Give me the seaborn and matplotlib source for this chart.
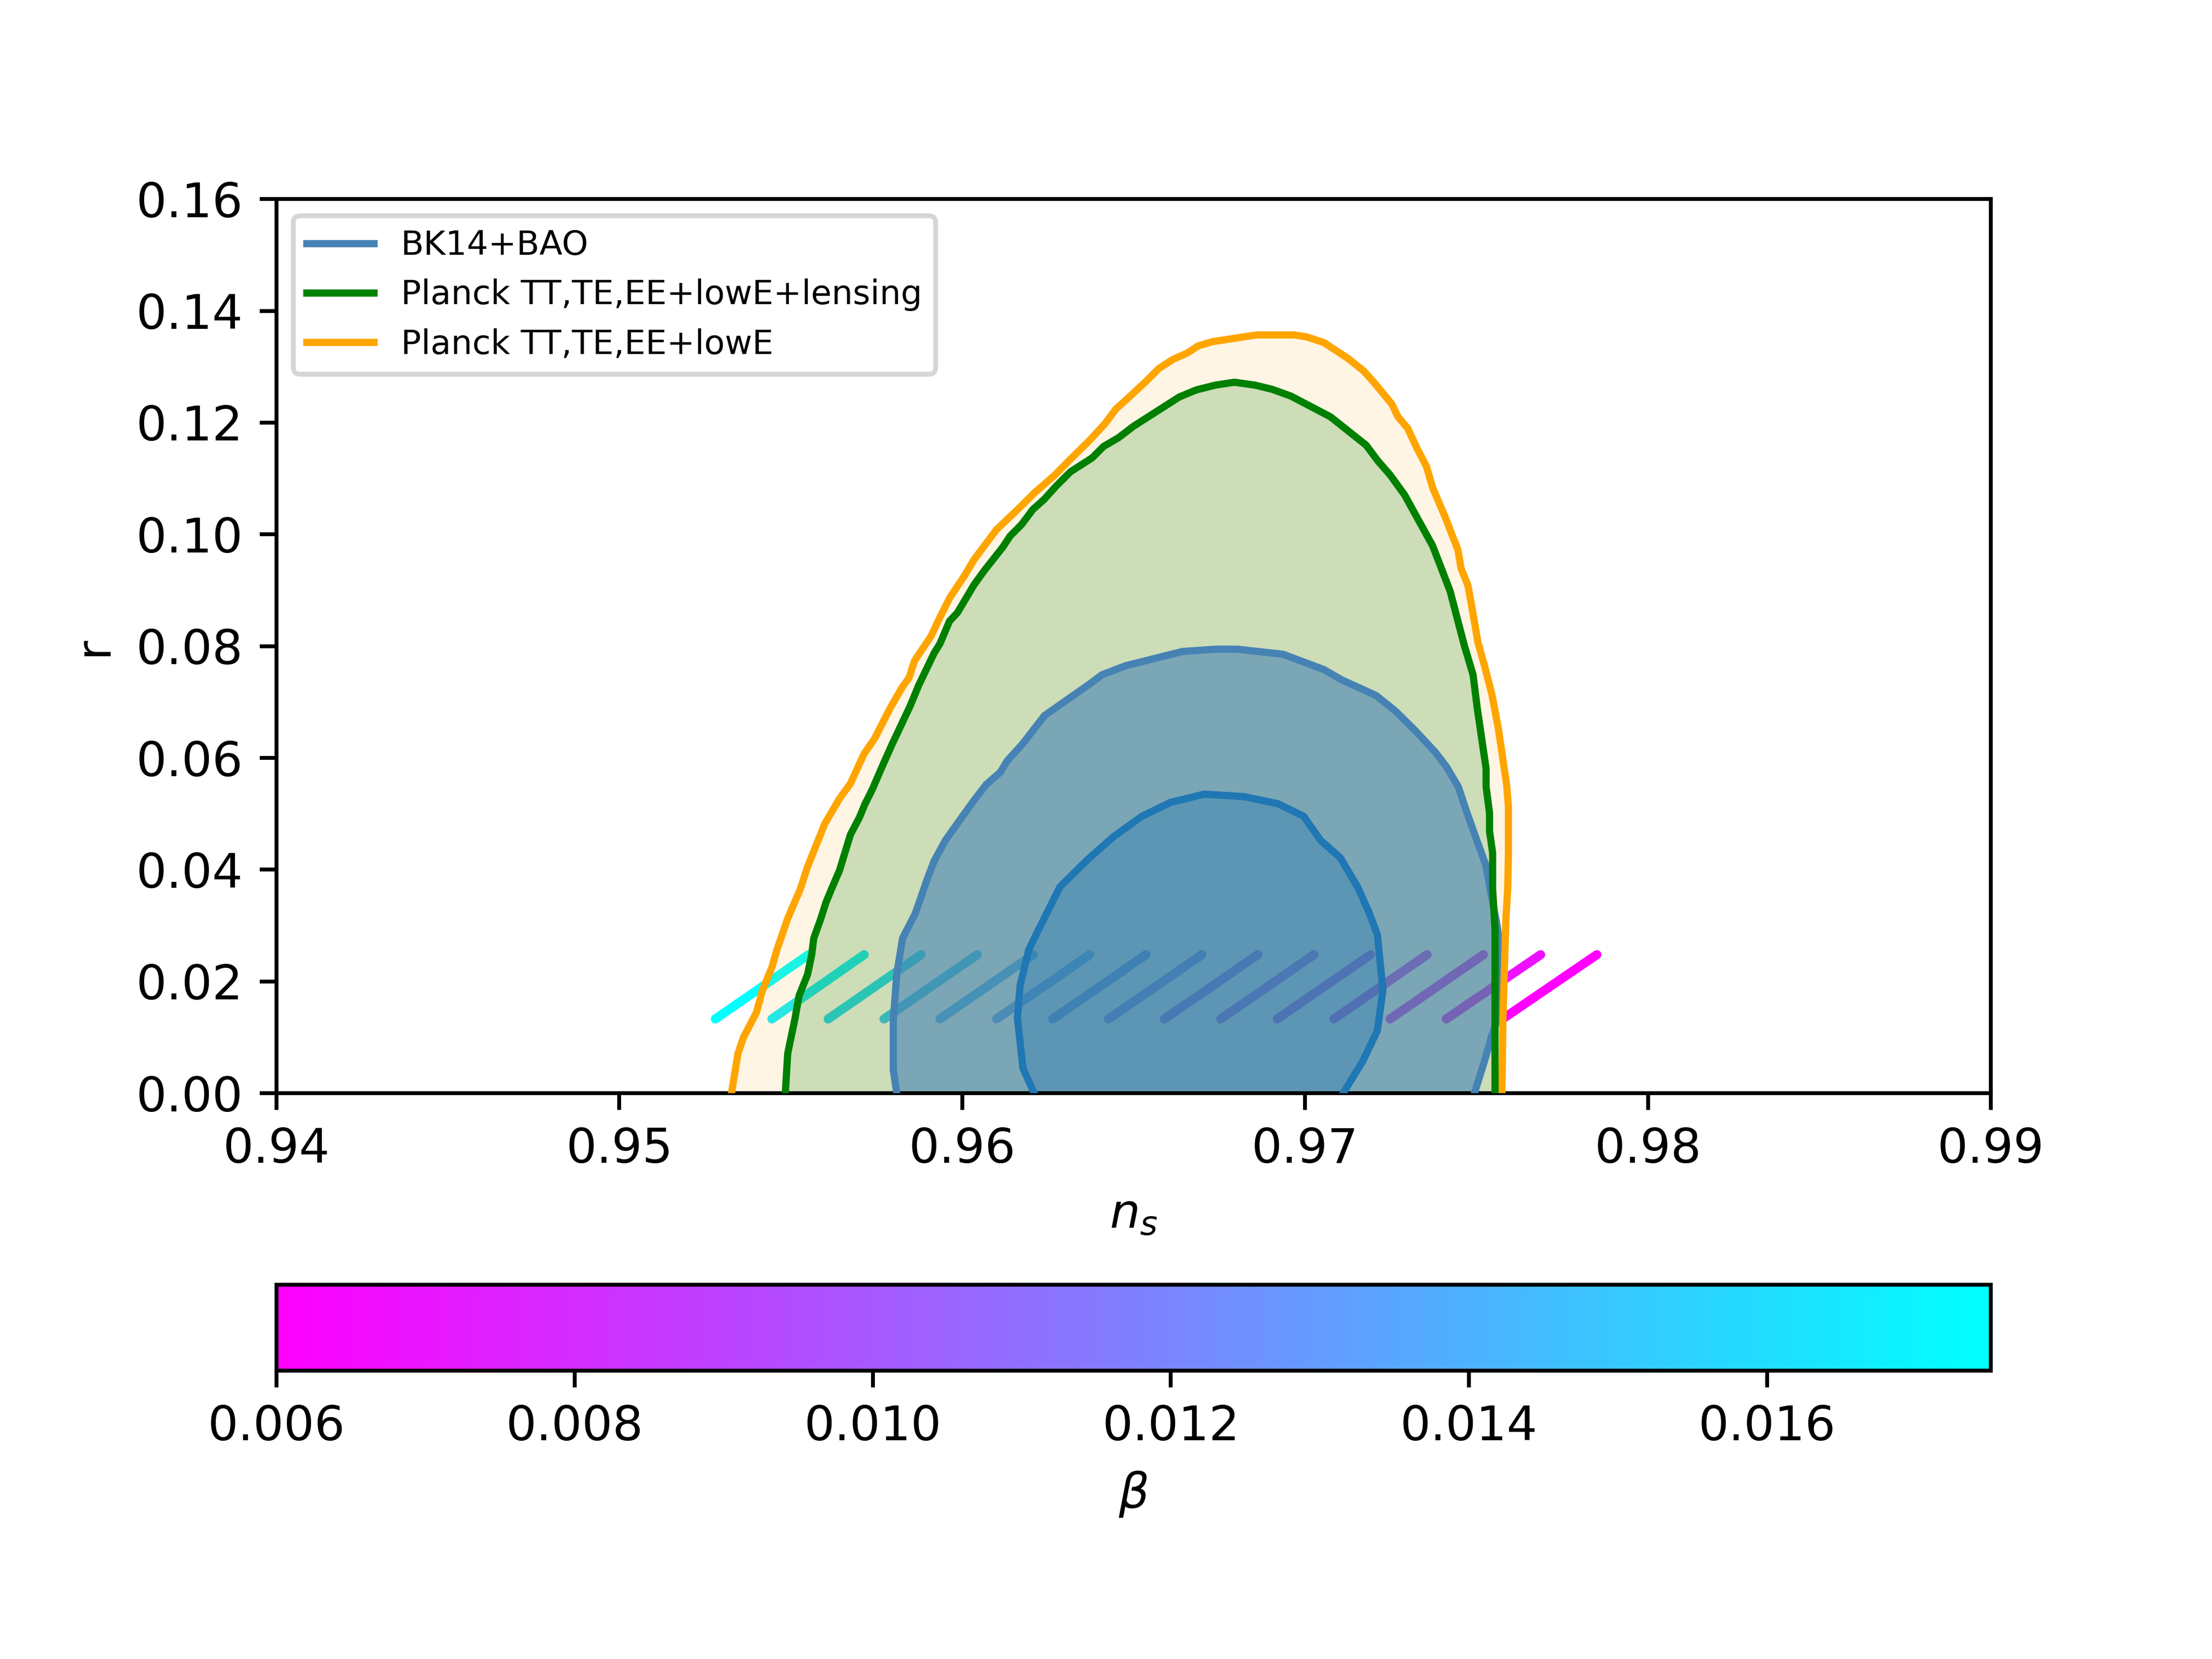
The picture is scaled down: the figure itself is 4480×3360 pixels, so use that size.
import pandas as pd
import matplotlib
matplotlib.use("Agg")
import matplotlib.pyplot as plt
import matplotlib.cm as cm
from matplotlib.colors import Normalize
import seaborn as sns

# contours, clockwise from r = 0 on the left
orange_ns = [.95327, .95346, .95362, .95400, .95417, .95446, .95458, .95491, .95528, .95549, .95599, .95642,
             .95674, .95713, .95745, .95790, .95825, .95845, .95861, .95909, .95935, .95964, .96008, .96034,
             .96100, .96158, .96210, .96269, .96316, .96372, .96416, .96449, .96478, .96536, .96573, .96615,
             .96656, .96688, .96729, .96794, .96858, .96968, .97005, .97055, .97124, .97170, .97202, .97253,
             .97271, .97299, .97326, .97354, .97372, .97409, .97446, .97455, .97475, .97487, .97504, .97524,
             .97545, .97564, .97576, .97588, .97593, .97593, .97591, .97586, .97584, .97577, .97574]
orange_r = [.00000, .00713, .01000, .01449, .01832, .02274, .02539, .03128, .03658, .04054, .04821, .05271,
            .05542, .06066, .06353, .06894, .07266, .07435, .07739, .08179, .08517, .08869, .09275, .09545,
            .10086, .10424, .10740, .11055, .11348, .11686, .11979, .12249, .12407, .12738, .12966, .13133,
            .13245, .13372, .13448, .13509, .13569, .13569, .13534, .13432, .13154, .12930, .12712, .12332,
            .12104, .11901, .11546, .11216, .10836, .10304, .09720, .09391, .09087, .08681, .08075, .07633,
            .07133, .06514, .06014, .05513, .05130, .04247, .03658, .03153, .02770, .01300, .00000]

green_ns = [.95484, .95491, .95512, .95524, .95549, .95561, .95567, .95586, .95603, .95619, .95642, .95674,
            .95700, .95716, .95738, .95764, .95796, .95822, .95848, .95873, .95918, .95935, .95963, .95986,
            .96034, .96063, .96118, .96140, .96173, .96206, .96239, .96272, .96316, .96379, .96412, .96456,
            .96500, .96633, .96683, .96739, .96794, .96853, .96904, .96959, .97074, .97178, .97212, .97248,
            .97290, .97372, .97423, .97464, .97490, .97502, .97516, .97528, .97528, .97538, .97538, .97547,
            .97547, .97554, .97554]
green_r = [.00000, .00713, .01331, .01744, .02127, .02480, .02774, .03098, .03422, .03658, .03986, .04629,
           .04933, .05170, .05440, .05812, .06252, .06590, .06928, .07300, .07875, .08044, .08449, .08599,
           .09094, .09342, .09770, .09973, .10176, .10446, .10627, .10852, .11122, .11370, .11573, .11731,
           .11937, .12459, .12586, .12672, .12723, .12672, .12596, .12474, .12104, .11597, .11318, .11064,
           .10709, .09797, .08985, .08022, .07486, .06897, .06308, .05807, .05483, .05012, .04688, .04305,
           .03658, .02924, .00000]

bao_outer_ns = [.95809, .95799, .95799, .95809, .95826, .95863, .95899, .95918, .95951, .96002, .96034, .96070,
                .96111, .96131, .96176, .96240, .96369, .96408, .96477, .96642, .96739, .96803, .96936, .96996,
                .97055, .97106, .97207, .97264, .97322, .97380, .97413, .97447, .97471, .97500, .97528, .97540,
                .97560, .97572, .97572, .97560, .97543, .97524, .97494]
bao_outer_r = [.00000, .00418, .01302, .02127, .02774, .03216, .03851, .04155, .04527, .04967, .05237, .05525,
               .05745, .05947, .06252, .06759, .07312, .07489, .07651, .07905, .07946, .07946, .07855, .07717,
               .07581, .07400, .07118, .06838, .06485, .06102, .05837, .05483, .05042, .04541, .04070, .03650,
               .03000, .02500, .01800, .01300, .01000, .00590, .00000]

bao_inner_ns = [.96210, .96177, .96161, .96169, .96194, .96219, .96285, .96367, .96442, .96524, .96607, .96706,
                .96822, .96921, .96996, .97045, .97103, .97153, .97186, .97211, .97227, .97211, .97169, .97111]
bao_inner_r = [.00000, .00449, .01350, .01936, .02567, .02883, .03694, .04190, .04595, .04956, .05204, .05353,
               .05308, .05181, .04956, .04528, .04212, .03694, .03243, .02838, .01846, .01125, .00584, .00000]

# model lines, one per beta
beta = [.0175, .0167, .0159, .0150, .0142, .0134, .0126, .0118, .0109, .0101, .0093, .0085, .0077, .0068, .0060]
line_ns_low = [.95280, .95445, .95609, .95772, .95935, .96100, .96264, .96427, .96590, .96754, .96919, .97084,
               .97248, .97412, .97576]
line_ns_high = [.95552, .95714, .95880, .96044, .96207, .96372, .96536, .96699, .96862, .97026, .97191, .97356,
                .97520, .97687, .97851]
line_r_low = 0.0133
line_r_high = 0.0248

x_ticks = [0.94, 0.95, 0.96, 0.97, 0.98, 0.99]
y_ticks = [0.00, 0.02, 0.04, 0.06, 0.08, 0.10, 0.12, 0.14, 0.16]
beta_ticks = [0.006, 0.008, 0.010, 0.012, 0.014, 0.016]
beta_range = (0.006, 0.0175)


def main():
    rows = []
    for b, lo, hi in zip(beta, line_ns_low, line_ns_high):
        rows.append({"ns": lo, "r": line_r_low, "beta": b})
        rows.append({"ns": hi, "r": line_r_high, "beta": b})
    df_lines = pd.DataFrame(rows)

    fig, ax = plt.subplots(figsize=(6.4, 4.8))

    sns.lineplot(data=df_lines, x="ns", y="r", hue="beta", palette="cool_r", hue_norm=beta_range,
                 estimator=None, sort=False, legend=False, lw=1.9, solid_capstyle="round", zorder=1, ax=ax)

    # filled regions, plain alpha layers on top of the model lines
    ax.fill(orange_ns, orange_r, color="orange", alpha=0.1, lw=0, zorder=2)
    ax.fill(green_ns, green_r, color="green", alpha=0.2, lw=0, zorder=2)
    ax.fill(bao_outer_ns, bao_outer_r, color="steelblue", alpha=0.6, lw=0, zorder=2)
    ax.fill(bao_inner_ns, bao_inner_r, color="tab:blue", alpha=0.33, lw=0, zorder=2)

    # outlines
    sns.lineplot(x=bao_outer_ns, y=bao_outer_r, color="steelblue", lw=1.5, sort=False, estimator=None,
                 label="BK14+BAO", zorder=3, ax=ax)
    sns.lineplot(x=bao_inner_ns, y=bao_inner_r, color="tab:blue", lw=1.5, sort=False, estimator=None,
                 zorder=3, ax=ax)
    sns.lineplot(x=green_ns, y=green_r, color="green", lw=1.5, sort=False, estimator=None,
                 label="Planck TT,TE,EE+lowE+lensing", zorder=3.2, ax=ax)
    sns.lineplot(x=orange_ns, y=orange_r, color="orange", lw=1.5, sort=False, estimator=None,
                 label="Planck TT,TE,EE+lowE", zorder=3.1, ax=ax)

    ax.set_xlim(0.94, 0.99)
    ax.set_ylim(0, 0.16)
    ax.set_xticks(x_ticks)
    ax.set_yticks(y_ticks)
    ax.set_xlabel(r"$n_s$")
    ax.set_ylabel("r")
    ax.legend(loc="upper left", fontsize=7)

    sm = cm.ScalarMappable(norm=Normalize(*beta_range), cmap="cool_r")
    cbar = fig.colorbar(sm, ax=ax, orientation="horizontal", ticks=beta_ticks)
    cbar.set_label(r"$\beta$")

    fig.savefig("out.png", dpi=700)


if __name__ == "__main__":
    main()
